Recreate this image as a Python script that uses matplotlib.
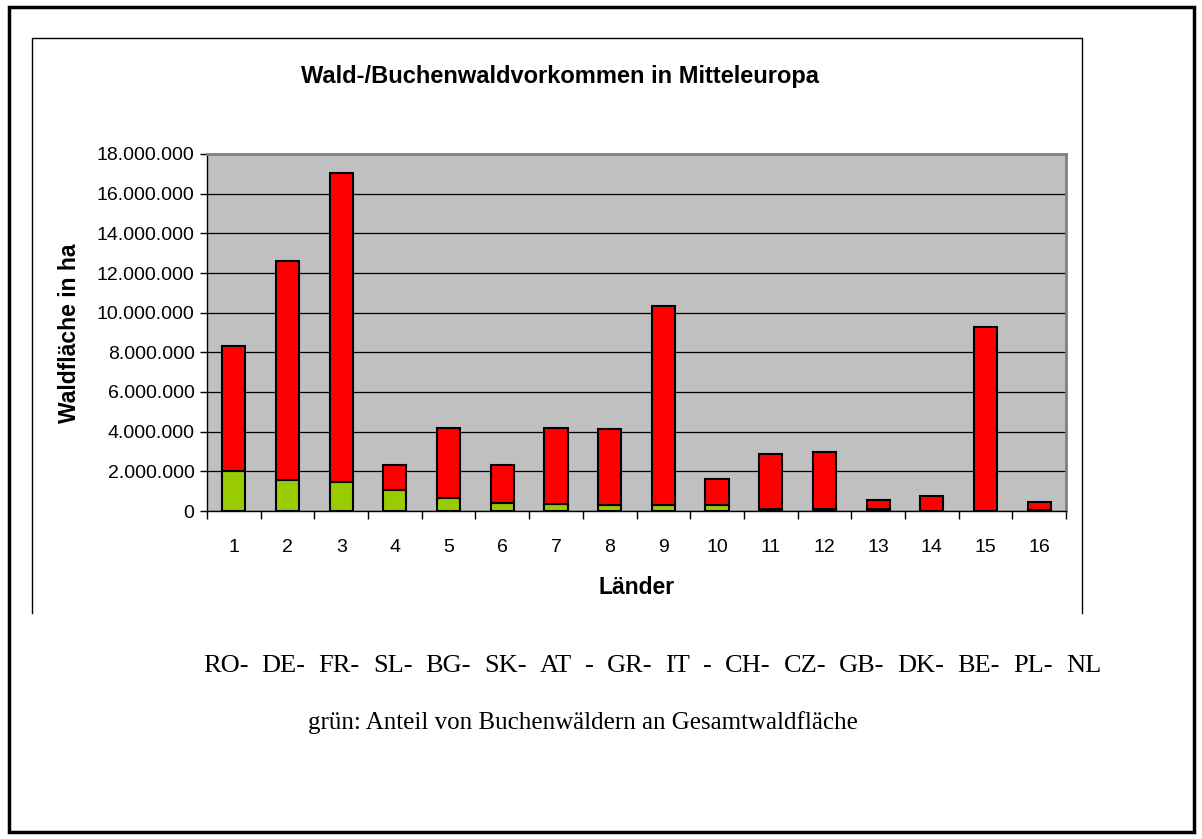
import matplotlib
matplotlib.use("Agg")
import matplotlib.pyplot as plt
from matplotlib.patches import Rectangle
from matplotlib.lines import Line2D
import numpy as np

# data (hectares)
laender = [str(i) for i in range(1, 17)]
gesamt = [8300000, 12630000, 17050000, 2320000, 4210000, 2320000, 4210000, 4110000,
          10330000, 1600000, 2860000, 2960000, 540000, 770000, 9270000, 440000]
buche = [2000000, 1580000, 1480000, 1040000, 640000, 420000, 330000, 320000,
         320000, 300000, 100000, 100000, 80000, 0, 0, 30000]
rest = [g - b for g, b in zip(gesamt, buche)]

title = "Wald-/Buchenwaldvorkommen in Mitteleuropa"
line1 = "RO- DE- FR- SL- BG- SK- AT - GR- IT - CH- CZ- GB- DK- BE- PL- NL"
line2 = "grün: Anteil von Buchenwäldern an Gesamtwaldfläche"

W, H = 1202, 839
fig = plt.figure(figsize=(W / 100, H / 100), dpi=100)
plt.rcParams['font.family'] = ['Liberation Sans', 'DejaVu Sans']

def fx(x):
	return x / W

def fy(y):
	return 1 - y / H

# outer page frame
fig.add_artist(Rectangle((fx(9), fy(832)), fx(1194) - fx(9), fy(7) - fy(832),
                         transform=fig.transFigure, fill=False, ec='black', lw=2.5))
# chart area frame (no bottom edge visible)
fig.add_artist(Line2D([fx(32), fx(32), fx(1082), fx(1082)], [fy(613), fy(38), fy(38), fy(613)],
                      transform=fig.transFigure, color='black', lw=1))

ax = fig.add_axes([fx(207), fy(511), fx(1066) - fx(207), fy(154) - fy(511)])
ax.set_facecolor('#C0C0C0')

x = np.arange(1, 17)
ax.bar(x, buche, width=0.43, color='#99CC00', edgecolor='black', lw=1.5, zorder=3)
ax.bar(x, rest, width=0.43, bottom=buche, color='#FF0000', edgecolor='black', lw=1.5, zorder=3)

ax.set_xlim(0.5, 16.5)
ax.set_ylim(0, 18000000)
yt = np.arange(0, 18000001, 2000000)
ax.set_yticks(yt)
ax.set_yticklabels(['0'] + ['{:,}'.format(v).replace(',', '.') for v in yt[1:]], fontsize=14)
ax.yaxis.grid(True, color='black', lw=0.9, zorder=1)

ax.set_xticks(np.arange(0.5, 16.6, 1))
ax.set_xticklabels([])
ax.set_xticks(x, minor=True)
ax.set_xticklabels(laender, minor=True, fontsize=14)
ax.tick_params(axis='x', which='major', direction='out', length=6, width=1)
ax.tick_params(axis='x', which='minor', length=0, pad=20)
ax.tick_params(axis='y', direction='out', length=5, width=1, pad=4)

for s in ['top', 'right']:
	ax.spines[s].set_color('#808080')
	ax.spines[s].set_linewidth(2)
for s in ['left', 'bottom']:
	ax.spines[s].set_color('black')
	ax.spines[s].set_linewidth(1)

fig.text(fx(560), fy(76), title, ha='center', va='center', fontsize=17, fontweight='bold')
fig.text(fx(70), fy(333), "Waldfläche in ha", ha='center', va='center', rotation=90,
         fontsize=16.5, fontweight='bold')
fig.text(fx(637), fy(588), "Länder", ha='center', va='center', fontsize=16.5, fontweight='bold')

# first line is spread between x=203 and x=1101 like in the document
words = line1.split(' ')
renderer = fig.canvas.get_renderer()
objs = [fig.text(0, fy(666), w, ha='left', va='center', fontsize=19, family='Liberation Serif')
        for w in words]
widths = [t.get_window_extent(renderer).width for t in objs]
gap = (1101 - 203 - sum(widths)) / (len(words) - 1)
pos = 203
for t, w in zip(objs, widths):
	t.set_x(fx(pos))
	pos += w + gap

fig.text(fx(308), fy(723), line2, ha='left', va='center', fontsize=18, family='Liberation Serif')

fig.savefig('out.png', dpi=100)
